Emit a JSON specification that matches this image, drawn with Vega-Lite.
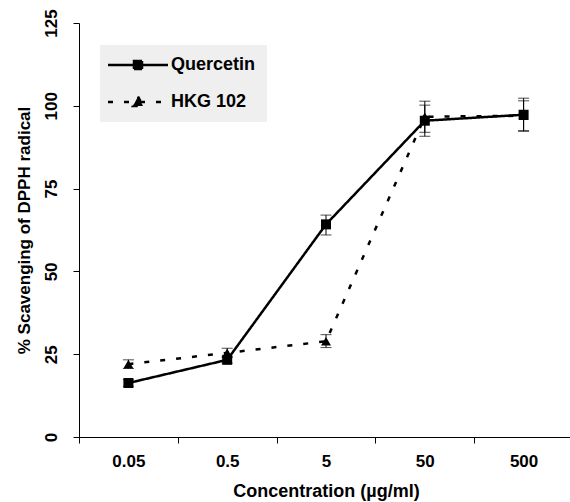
{
  "$schema": "https://vega.github.io/schema/vega-lite/v6.json",
  "width": 494,
  "height": 414,
  "autosize": {"type": "none"},
  "padding": {"left": 79, "top": 23, "right": 0, "bottom": 65},
  "background": "white",
  "config": {
    "view": {"stroke": null},
    "font": "Liberation Sans",
    "axis": {
      "grid": false,
      "domainColor": "black",
      "tickColor": "black",
      "labelColor": "black",
      "titleColor": "black",
      "labelFont": "Liberation Sans",
      "titleFont": "Liberation Sans",
      "labelFontWeight": "bold",
      "titleFontWeight": "bold",
      "tickSize": 6
    }
  },
  "data": {
    "values": [
      {"conc": "0.05", "series": "Quercetin", "value": 16.3, "lo": 15.3, "hi": 17.3},
      {"conc": "0.5", "series": "Quercetin", "value": 23.3, "lo": 22.3, "hi": 24.3},
      {"conc": "5", "series": "Quercetin", "value": 64.2, "lo": 61.0, "hi": 67.0},
      {"conc": "50", "series": "Quercetin", "value": 95.5, "lo": 90.8, "hi": 100.2},
      {"conc": "500", "series": "Quercetin", "value": 97.3, "lo": 92.3, "hi": 102.3},
      {"conc": "0.05", "series": "HKG 102", "value": 22.0, "lo": 20.7, "hi": 23.3},
      {"conc": "0.5", "series": "HKG 102", "value": 25.4, "lo": 24.0, "hi": 26.8},
      {"conc": "5", "series": "HKG 102", "value": 28.9, "lo": 27.0, "hi": 30.9},
      {"conc": "50", "series": "HKG 102", "value": 96.7, "lo": 92.0, "hi": 101.4},
      {"conc": "500", "series": "HKG 102", "value": 97.0, "lo": 92.5, "hi": 101.5}
    ]
  },
  "encoding": {
    "x": {
      "field": "conc",
      "type": "ordinal",
      "sort": ["0.05", "0.5", "5", "50", "500"],
      "scale": {"type": "band", "paddingInner": 0, "paddingOuter": 0},
      "axis": {
        "title": "Concentration (µg/ml)",
        "labelAngle": 0,
        "labelFontSize": 17,
        "labelPadding": 10,
        "tickBand": "extent",
        "titleFontSize": 18,
        "titlePadding": 13
      }
    }
  },
  "layer": [
    {
      "mark": {"type": "line", "color": "black", "strokeWidth": 2.5},
      "encoding": {
        "y": {
          "field": "value",
          "type": "quantitative",
          "scale": {"domain": [0, 125], "nice": false},
          "axis": {
            "title": "% Scavenging of DPPH radical",
            "values": [0, 25, 50, 75, 100, 125],
            "labelAngle": -90,
            "labelAlign": "center",
            "labelBaseline": "bottom",
            "labelFontSize": 17,
            "labelPadding": 13,
            "titleFontSize": 17,
            "titlePadding": 9
          }
        },
        "detail": {"field": "series"},
        "strokeDash": {
          "field": "series",
          "type": "nominal",
          "scale": {"domain": ["Quercetin", "HKG 102"], "range": [[1, 0], [5, 11]]},
          "legend": {
            "title": null,
            "orient": "none",
            "legendX": 21,
            "legendY": 22,
            "padding": 11,
            "fillColor": "#efefef",
            "strokeColor": null,
            "labelFontSize": 18,
            "labelFontWeight": "bold",
            "labelColor": "black",
            "labelFont": "Liberation Sans",
            "labelOffset": 42,
            "rowPadding": 17,
            "symbolSize": 100,
            "symbolStrokeWidth": 2.5,
            "symbolStrokeColor": "black",
            "symbolFillColor": "black",
            "encode": {
              "symbols": {
                "update": {
                  "shape": {"signal": "datum.value === 'Quercetin' ? 'M-2.4,0H9.6M2.8,-0.8H4.4V0.8H2.8Z' : 'M-2.4,0H9.6M3.6,-1.1L4.6,0.8H2.6Z'"},
                  "fill": {"value": "black"},
                  "stroke": {"value": "black"},
                  "strokeWidth": {"value": 2.5}
                }
              }
            }
          }
        }
      }
    },
    {
      "mark": {"type": "rule", "color": "black", "strokeWidth": 1},
      "encoding": {
        "y": {"field": "lo", "type": "quantitative"},
        "y2": {"field": "hi"}
      }
    },
    {
      "mark": {"type": "tick", "color": "black", "thickness": 1, "size": 11, "orient": "horizontal"},
      "encoding": {
        "y": {"field": "lo", "type": "quantitative"}
      }
    },
    {
      "mark": {"type": "tick", "color": "black", "thickness": 1, "size": 11, "orient": "horizontal"},
      "encoding": {
        "y": {"field": "hi", "type": "quantitative"}
      }
    },
    {
      "transform": [{"filter": "datum.series === 'Quercetin'"}],
      "mark": {"type": "point", "shape": "square", "filled": true, "color": "black", "opacity": 1, "size": 100},
      "encoding": {
        "y": {"field": "value", "type": "quantitative"}
      }
    },
    {
      "transform": [{"filter": "datum.series === 'HKG 102'"}],
      "mark": {"type": "point", "shape": "triangle-up", "filled": true, "color": "black", "opacity": 1, "size": 100},
      "encoding": {
        "y": {"field": "value", "type": "quantitative"}
      }
    }
  ]
}
